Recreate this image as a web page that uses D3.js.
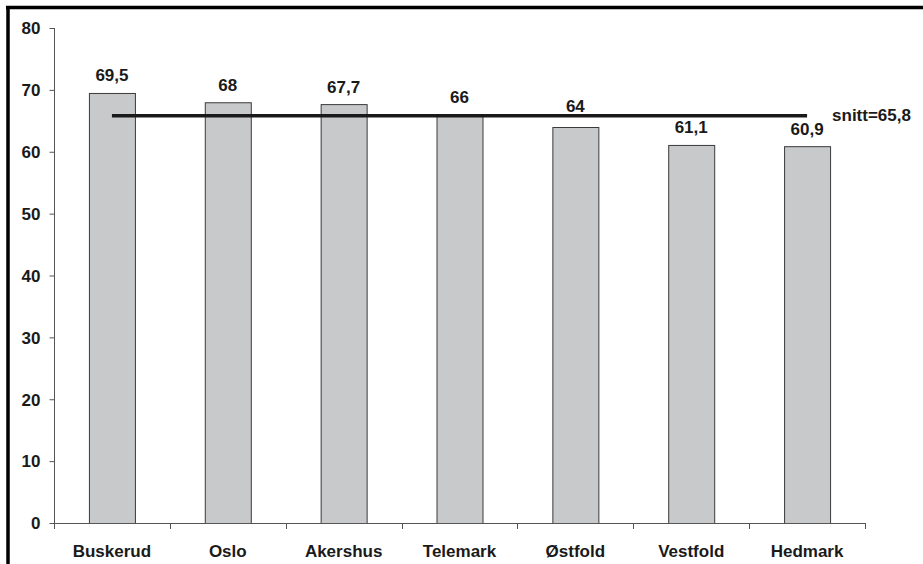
<!DOCTYPE html>
<html>
<head>
<meta charset="utf-8">
<script src="https://cdn.jsdelivr.net/npm/d3@7"></script>
<style>
  body { margin: 0; background: #fff; }
  svg { display: block; }
  text { font-family: "Liberation Sans", Arial, sans-serif; font-weight: bold; fill: #1a1a1a; }
</style>
</head>
<body>
<svg id="chart" width="923" height="564"></svg>
<script>
const categories = ["Buskerud", "Oslo", "Akershus", "Telemark", "Østfold", "Vestfold", "Hedmark"];
const values = [69.5, 68, 67.7, 66, 64, 61.1, 60.9];
const valueLabels = ["69,5", "68", "67,7", "66", "64", "61,1", "60,9"];
const average = 65.8;
const averageLabel = "snitt=65,8";
const yTicks = [0, 10, 20, 30, 40, 50, 60, 70, 80];

const svg = d3.select("#chart");
const mLeft = 54, mRight = 865, mTop = 28, mBottom = 523;

const x = d3.scaleBand().domain(categories).range([mLeft, mRight]).paddingInner(0.603).paddingOuter(0.3015);
const y = d3.scaleLinear().domain([0, 80]).range([mBottom, mTop]);
const step = x.step();

// frame (top and left edges)
svg.append("line").attr("x1", 6).attr("x2", 923).attr("y1", 7.5).attr("y2", 7.5).attr("stroke", "#000").attr("stroke-width", 3.5);
svg.append("line").attr("x1", 8).attr("x2", 8).attr("y1", 6).attr("y2", 564).attr("stroke", "#000").attr("stroke-width", 3.5);

// bars
svg.selectAll("rect.bar").data(categories).join("rect")
  .attr("class", "bar")
  .attr("x", d => x(d) + 0.5)
  .attr("y", (d, i) => y(values[i]) + 0.5)
  .attr("width", x.bandwidth())
  .attr("height", (d, i) => y(0) - y(values[i]))
  .attr("fill", "#c8c9cb")
  .attr("stroke", "#3a3a3a")
  .attr("stroke-width", 1);

// y axis
const yAxis = d3.axisLeft(y).tickValues(yTicks).tickSize(5).tickPadding(9).tickSizeOuter(0);
const gy = svg.append("g").attr("transform", `translate(${mLeft + 0.5},0)`).call(yAxis);
gy.select(".domain").attr("stroke", "#555").attr("d", `M0,${mTop}V${mBottom + 6}`);
gy.selectAll(".tick line").attr("stroke", "#555");
gy.selectAll(".tick text").style("font-size", "17px").style("font-family", "Liberation Sans, Arial, sans-serif").style("font-weight", "bold").attr("fill", "#1a1a1a").attr("dy", "0.34em");

// x axis
svg.append("line").attr("x1", mLeft).attr("x2", mRight + 0.5).attr("y1", mBottom + 0.5).attr("y2", mBottom + 0.5).attr("stroke", "#555");
const bounds = categories.map(c => x(c) + x.bandwidth() / 2 + step / 2);
svg.selectAll("line.xtick").data(bounds).join("line")
  .attr("class", "xtick")
  .attr("x1", d => Math.round(d) + 0.5).attr("x2", d => Math.round(d) + 0.5)
  .attr("y1", mBottom).attr("y2", mBottom + 6)
  .attr("stroke", "#555");
svg.selectAll("text.cat").data(categories).join("text")
  .attr("class", "cat")
  .attr("x", d => x(d) + x.bandwidth() / 2)
  .attr("y", 557)
  .attr("text-anchor", "middle")
  .style("font-size", "17px")
  .text(d => d);

// average line
const lineW = 3.5;
const avgY = y(average);
const lineTop = avgY - lineW / 2;

// value labels (lifted above the average line if they would collide with it)
function labelBaseline(v) {
  let b = y(v) - 11.5;
  const capTop = b - 12.5;
  if (b > lineTop - 1 && capTop < avgY + lineW / 2) b = lineTop - 2;
  return b;
}
svg.selectAll("text.val").data(categories).join("text")
  .attr("class", "val")
  .attr("x", d => x(d) + x.bandwidth() / 2)
  .attr("y", (d, i) => labelBaseline(values[i]))
  .attr("text-anchor", "middle")
  .style("font-size", "17px")
  .text((d, i) => valueLabels[i]);

const x0 = x(categories[0]) + x.bandwidth() / 2;
const x1 = x(categories[categories.length - 1]) + x.bandwidth() / 2;
svg.append("line").attr("x1", x0).attr("x2", x1).attr("y1", avgY).attr("y2", avgY)
  .attr("stroke", "#1a1a1a").attr("stroke-width", lineW);
svg.append("text").attr("x", x1 + 25).attr("y", avgY + 5)
  .style("font-size", "17px").text(averageLabel);
</script>
</body>
</html>
